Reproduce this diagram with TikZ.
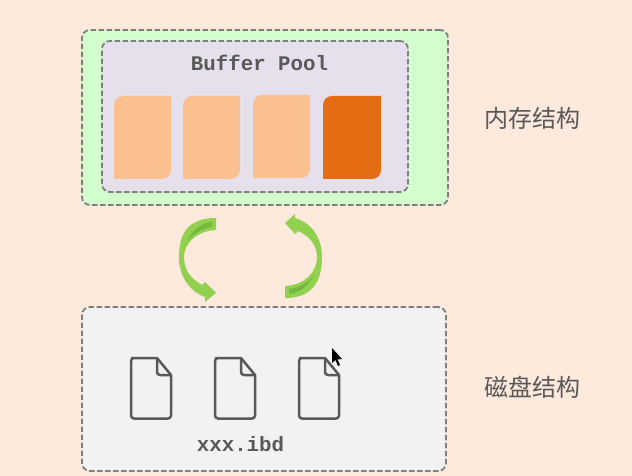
\documentclass[tikz,border=0pt]{standalone}
\usepackage{fontspec}
\usepackage{xcolor}
\usepackage{tikz}
\setmonofont{Liberation Mono}
\newfontfamily\cjk{Noto Sans CJK SC}
\definecolor{peachbg}{HTML}{FEE9DD}
\definecolor{memgreen}{HTML}{D3FFCF}
\definecolor{poollilac}{HTML}{E6E0EC}
\definecolor{diskgray}{HTML}{F2F2F2}
\definecolor{edgegray}{HTML}{7F7F7F}
\definecolor{pagelight}{HTML}{FAC090}
\definecolor{pagedark}{HTML}{E46C12}
\definecolor{arrowgreen}{HTML}{92D050}
\definecolor{arrowdark}{HTML}{74B83F}
\definecolor{inkgray}{HTML}{595959}
\tikzset{
  dashbox/.style={draw=edgegray,line width=1.8pt,dash pattern=on 5.5pt off 2.5pt,rounded corners=8pt,inner sep=0pt},
  codelabel/.style={font=\ttfamily\bfseries\fontsize{20.8}{20.8}\selectfont,text=inkgray,inner sep=0pt},
  sidelabel/.style={font=\cjk\fontsize{24}{24}\selectfont,text=inkgray,inner sep=0pt},
  fileline/.style={draw=inkgray,line width=2.5pt,rounded corners=3pt,line join=round}
}
\begin{document}
\begin{tikzpicture}[x=1pt,y=-1pt]
  \fill[peachbg] (0,0) rectangle (632,476);
  \useasboundingbox (0,0) rectangle (632,476);
  % boxes
  \node[dashbox,fill=memgreen,minimum width=366pt,minimum height=175pt] (memory) at (265,117.5) {};
  \node[dashbox,fill=poollilac,minimum width=306pt,minimum height=151pt] (pool) at (255,116.5) {};
  \node[dashbox,fill=diskgray,minimum width=364pt,minimum height=164pt] (disk) at (264,389) {};
  \node[codelabel] (poolname) at (259.5,63) {Buffer Pool};
  \node[codelabel] (ibdname) at (240.5,444) {xxx.ibd};
  \node[sidelabel] (memname) at (532,118.5) {内存结构};
  \node[sidelabel] (diskname) at (532,387.5) {磁盘结构};
  % pages
  \foreach \x/\y/\w/\col in {114/96/57/pagelight,183/96/57/pagelight,253/95/57/pagelight,323/96/58/pagedark} {
    \fill[\col] (\x,\y+83) -- (\x,\y+9) [rounded corners=9pt] -- (\x,\y) [sharp corners] -- (\x+\w,\y)
      [rounded corners=9pt] -- (\x+\w,\y+83) [sharp corners] -- cycle;
  }
  % arrows
  \fill[arrowgreen] (216,218) .. controls (186,218) and (179,236) .. (179,257)
    .. controls (179,276) and (189,291) .. (205,297) -- (205,302) -- (216,293) -- (205,282) -- (202,285)
    .. controls (191,279) and (184,270) .. (184,257) .. controls (184,243) and (197,231) .. (216,230) -- cycle;
  \fill[arrowdark] (212,222) .. controls (202,223) and (194,229) .. (187,240)
    .. controls (194,234) and (203,228) .. (212,227) -- cycle;
  \fill[arrowgreen] (285,298) .. controls (315,298) and (322,278) .. (322,257)
    .. controls (322,238) and (312,223) .. (295,218) -- (295,214) -- (285,223) -- (295,234) -- (298,231)
    .. controls (310,236) and (317,246) .. (317,257) .. controls (317,273) and (304,285) .. (285,286) -- cycle;
  \fill[arrowdark] (289,294) .. controls (299,293) and (307,287) .. (314,276)
    .. controls (307,283) and (298,288) .. (289,289) -- cycle;
  % files
  \foreach \x in {131,215,299} {
    \draw[fileline] (\x,358) [sharp corners] -- (\x+26,358) -- (\x+40,375) [rounded corners=3pt] -- (\x+40,418.5) -- (\x,418.5) -- (\x,358) -- (\x+26,358);
    \draw[fileline] (\x+26,358) -- (\x+26,375) -- (\x+40,375);
  }
  % cursor
  \fill[black] (332,348) -- (332,363) -- (335.5,360) -- (338,366) -- (340,365) -- (337.5,359.5) -- (342,359) -- cycle;
\end{tikzpicture}
\end{document}
